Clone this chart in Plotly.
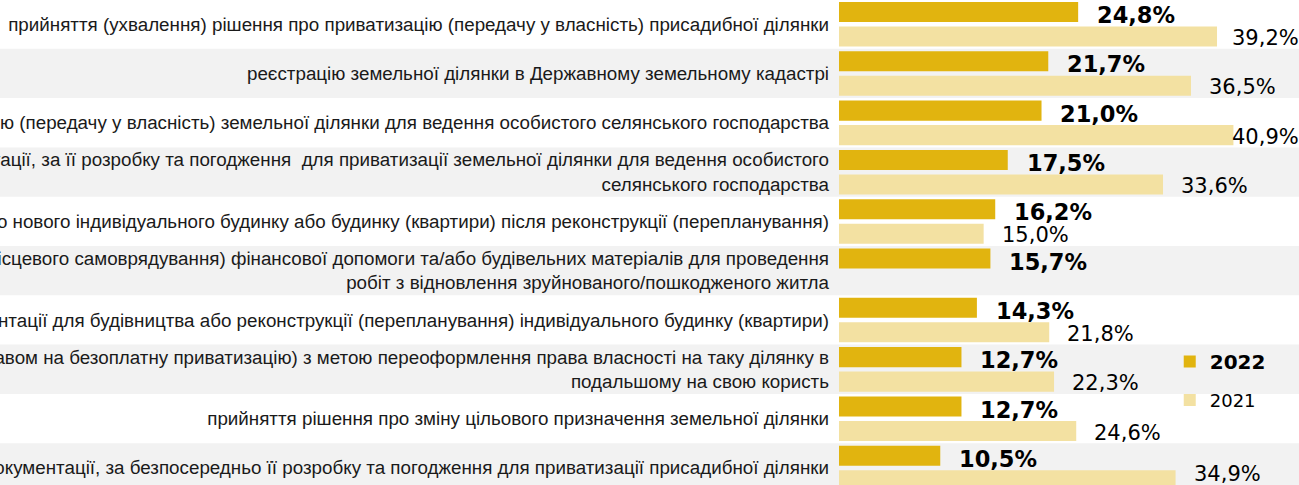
import plotly.graph_objects as go

categories = [
    "прийняття (ухвалення) рішення про приватизацію (передачу у власність) присадибної ділянки",
    "реєстрацію земельної ділянки в Державному земельному кадастрі",
    "прийняття (ухвалення) рішення про приватизацію (передачу у власність) земельної ділянки для ведення особистого селянського господарства",
    "замовлення землевпорядної документації, за її розробку та погодження  для приватизації земельної ділянки для ведення особистого<br>селянського господарства",
    "прийняття в експлуатацію збудованого нового індивідуального будинку або будинку (квартири) після реконструкції (перепланування)",
    "отримання від держави (органу місцевого самоврядування) фінансової допомоги та/або будівельних матеріалів для проведення<br>робіт з відновлення зруйнованого/пошкодженого житла",
    "отримання дозвільної документації для будівництва або реконструкції (перепланування) індивідуального будинку (квартири)",
    "купівлю земельної ділянки в особи (з правом на безоплатну приватизацію) з метою переоформлення права власності на таку ділянку в<br>подальшому на свою користь",
    "прийняття рішення про зміну цільового призначення земельної ділянки",
    "замовлення землевпорядної документації, за безпосередньо її розробку та погодження для приватизації присадибної ділянки",
]
values_2022 = [24.8, 21.7, 21.0, 17.5, 16.2, 15.7, 14.3, 12.7, 12.7, 10.5]
values_2021 = [39.2, 36.5, 40.9, 33.6, 15.0, None, 21.8, 22.3, 24.6, 34.9]

C2022 = "#E1B40F"
C2021 = "#F3E1A2"
STRIPE = "#F2F2F2"

H = 485
Y_RANGE = [9.348, -0.49]
idx = list(range(len(categories)))


def fmt(v):
    return f"{v:.1f}%".replace(".", ",")


def row_center_px(i):
    return (i - Y_RANGE[1]) / (Y_RANGE[0] - Y_RANGE[1]) * H


fig = go.Figure()
fig.add_trace(go.Bar(
    y=idx, x=values_2022, orientation="h",
    name="<b><span style='font-size:20px'>2022</span></b>",
    marker=dict(color=C2022, line=dict(width=0)),
    width=0.406, offset=-0.449, legendgroup="a", hoverinfo="skip",
))
fig.add_trace(go.Bar(
    y=idx, x=values_2021, orientation="h", name="2021",
    marker=dict(color=C2021, line=dict(width=0)),
    width=0.406, offset=0.048, legendgroup="b", hoverinfo="skip",
))

# alternating row stripes
shapes = []
for i in idx:
    if i % 2 == 1:
        shapes.append(dict(type="rect", xref="paper", yref="y", x0=-2, x1=1.05,
                           y0=i - 0.5, y1=i + 0.5, fillcolor=STRIPE,
                           line=dict(width=0), layer="below"))

annotations = []
for i, v in zip(idx, values_2022):
    annotations.append(dict(x=v + 1.76, y=i, xref="x", yref="y", text=f"<b>{fmt(v)}</b>",
                            showarrow=False, xanchor="left", yanchor="middle", yshift=9,
                            font=dict(family="DejaVu Sans", size=22.5, color="#000000")))
for i, v in zip(idx, values_2021):
    if v is None:
        continue
    c = row_center_px(i)
    target = min(c + 14, 474)  # keep label inside the chart area
    annotations.append(dict(x=min(v + 1.66, 40.56), y=i, xref="x", yref="y", text=fmt(v),
                            showarrow=False, xanchor="left", yanchor="middle",
                            yshift=-(target - c),
                            font=dict(family="DejaVu Sans", size=21, color="#000000")))

fig.update_layout(
    width=1299, height=H,
    margin=dict(l=839, r=0, t=0, b=0, pad=0),
    paper_bgcolor="#FFFFFF", plot_bgcolor="rgba(0,0,0,0)",
    barmode="group",
    shapes=shapes, annotations=annotations,
    showlegend=True,
    legend=dict(x=0.719, y=0.292, xanchor="left", yanchor="top",
                bgcolor="rgba(0,0,0,0)", traceorder="grouped", tracegroupgap=12,
                font=dict(family="DejaVu Sans", size=18, color="#000000")),
    xaxis=dict(range=[0, 47.7], showgrid=False, zeroline=False, showticklabels=False,
               showline=False, fixedrange=True),
    yaxis=dict(range=Y_RANGE, tickmode="array", tickvals=idx, ticktext=categories,
               showgrid=False, zeroline=False, showline=False, automargin=False,
               ticks="", ticklabelstandoff=9,
               tickfont=dict(family="Liberation Sans", size=18.8, color="#1A1A1A")),
)

fig.write_html("out.html", post_script="document.body.style.margin='0';",
               config={"displayModeBar": False})
